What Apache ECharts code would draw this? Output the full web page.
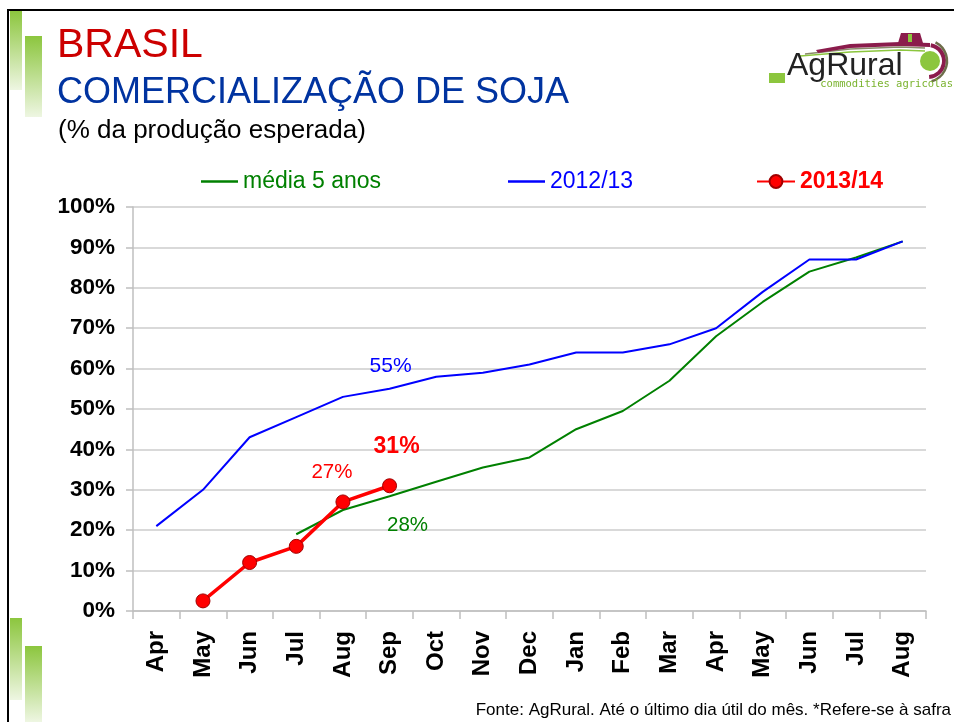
<!DOCTYPE html>
<html>
<head>
<meta charset="utf-8">
<title>Comercialização de soja</title>
<script src="https://cdn.jsdelivr.net/npm/echarts/dist/echarts.min.js"></script>
<style>
    body { margin: 0; background: #fff; }
    #chart { width: 954px; height: 722px; }
</style>
</head>
<body>
<div id="chart"></div>
<script>
// meses da safra (abr -> ago do ano seguinte)
var months = ['Apr', 'May', 'Jun', 'Jul', 'Aug', 'Sep', 'Oct', 'Nov', 'Dec', 'Jan', 'Feb', 'Mar', 'Apr', 'May', 'Jun', 'Jul', 'Aug'];
// % da produção esperada
var media5anos = ['-', '-', '-', 19, 25, 28.4, 32, 35.5, 38, 45, 49.5, 57, 68, 76.5, 84, 87.5, 91.5];
var safra1213 = [21, 30, 43, 48, 53, 55, 58, 59, 61, 64, 64, 66, 70, 79, 87, 87, 91.5];
var safra1314 = ['-', 2.5, 12, 16, 27, 31];
var yTicks = [0, 10, 20, 30, 40, 50, 60, 70, 80, 90, 100];

var FONT = 'Liberation Sans, Arial, sans-serif';

function pct(p) {
    return Math.round(p.value) + '%';
}

function verde(x, y, w, h) {
    return {
        type: 'rect', shape: { x: x, y: y, width: w, height: h },
        style: { fill: new echarts.graphic.LinearGradient(0, 0, 0, 1, [{ offset: 0, color: '#8cc63e' }, { offset: 1, color: '#eef6e2' }]) }
    };
}

var myChart = echarts.init(document.getElementById('chart'));

var option = {
    animation: false,
    backgroundColor: '#fff',
    textStyle: { fontFamily: FONT },
    grid: { left: 133, right: 28, top: 207, bottom: 111 },
    legend: [
        {
            data: ['média 5 anos'], left: 201, top: 170, padding: 0, selectedMode: false,
            icon: 'rect', itemWidth: 37, itemHeight: 2.5, itemGap: 6,
            textStyle: { color: '#008000', fontSize: 23, fontFamily: FONT }
        },
        {
            data: ['2012/13'], left: 508, top: 170, padding: 0, selectedMode: false,
            icon: 'rect', itemWidth: 37, itemHeight: 2.5,
            textStyle: { color: '#0000ff', fontSize: 23, fontFamily: FONT }
        },
        {
            data: ['2013/14'], left: 756, top: 170, padding: 0, selectedMode: false,
            itemWidth: 38, itemHeight: 16,
            textStyle: { color: '#ff0000', fontSize: 23, fontWeight: 'bold', fontFamily: FONT }
        }
    ],
    xAxis: {
        type: 'category',
        boundaryGap: true,
        data: months,
        axisLine: { lineStyle: { color: '#bfbfbf', width: 1.5 } },
        axisTick: { show: true, length: 8, lineStyle: { color: '#bfbfbf', width: 1.5 } },
        axisLabel: {
            rotate: 90, margin: 20, interval: 0,
            color: '#000', fontSize: 24, fontWeight: 'bold', fontFamily: FONT
        }
    },
    yAxis: {
        type: 'value',
        min: yTicks[0], max: yTicks[yTicks.length - 1], interval: 10,
        axisLine: { show: true, lineStyle: { color: '#bfbfbf', width: 1.5 } },
        axisTick: { show: true, length: 7, lineStyle: { color: '#bfbfbf', width: 1.5 } },
        splitLine: { lineStyle: { color: '#d9d9d9', width: 2 } },
        axisLabel: {
            formatter: '{value}%', margin: 18,
            color: '#000', fontSize: 22.5, fontWeight: 'bold', fontFamily: FONT
        }
    },
    series: [
        {
            name: 'média 5 anos',
            type: 'line',
            data: media5anos,
            symbol: 'none',
            lineStyle: { color: '#008000', width: 2 },
            itemStyle: { color: '#008000' },
            markPoint: {
                symbol: 'circle', symbolSize: 0,
                data: [{ coord: [5, media5anos[5]], value: media5anos[5] }],
                label: {
                    show: true, position: 'inside', offset: [18, 29],
                    formatter: pct, color: '#008000', fontSize: 20.5, fontFamily: FONT
                }
            }
        },
        {
            name: '2012/13',
            type: 'line',
            data: safra1213,
            symbol: 'none',
            lineStyle: { color: '#0000ff', width: 2 },
            itemStyle: { color: '#0000ff' },
            markPoint: {
                symbol: 'circle', symbolSize: 0,
                data: [{ coord: [5, safra1213[5]], value: safra1213[5] }],
                label: {
                    show: true, position: 'inside', offset: [1, -23],
                    formatter: pct, color: '#0000ff', fontSize: 21, fontFamily: FONT
                }
            }
        },
        {
            name: '2013/14',
            type: 'line',
            data: safra1314,
            symbol: 'circle',
            symbolSize: 14,
            lineStyle: { color: '#ff0000', width: 3.5 },
            itemStyle: { color: '#ff0000', borderColor: '#a00000', borderWidth: 1 },
            markPoint: {
                symbol: 'circle', symbolSize: 0,
                data: [
                    {
                        coord: [4, safra1314[4]], value: safra1314[4],
                        label: { offset: [-11, -30], fontSize: 20.5 }
                    },
                    {
                        coord: [5, safra1314[5]], value: safra1314[5],
                        label: { offset: [7, -39], fontSize: 23, fontWeight: 'bold' }
                    }
                ],
                label: {
                    show: true, position: 'inside',
                    formatter: pct, color: '#ff0000', fontFamily: FONT
                }
            }
        }
    ],
    graphic: [
        // moldura do slide
        { type: 'rect', shape: { x: 7, y: 9, width: 950, height: 2 }, style: { fill: '#000' } },
        { type: 'rect', shape: { x: 7, y: 9, width: 2, height: 720 }, style: { fill: '#000' } },
        // barras verdes decorativas
        verde(10, 11, 12, 79),
        verde(25, 36, 17, 81),
        verde(10, 618, 12, 82),
        verde(25, 646, 17, 76),
        // títulos
        { type: 'text', style: { text: 'BRASIL', x: 57, y: 46, verticalAlign: 'middle', font: '41px ' + FONT, fill: '#cc0000' } },
        { type: 'text', style: { text: 'COMERCIALIZAÇÃO DE SOJA', x: 57, y: 93, verticalAlign: 'middle', font: '36px ' + FONT, fill: '#0033a0' } },
        { type: 'text', style: { text: '(% da produção esperada)', x: 58, y: 131, verticalAlign: 'middle', font: '26px ' + FONT, fill: '#000' } },
        // rodapé
        { type: 'text', style: { text: 'Fonte: AgRural. Até o último dia útil do mês. *Refere-se à safra', x: 951, y: 710, align: 'right', verticalAlign: 'middle', font: '17px ' + FONT, fill: '#000' } },
        // logo AgRural
        { type: 'polyline', shape: { points: [[800, 56], [850, 52], [900, 50], [925, 51]] }, style: { stroke: '#8cc63e', lineWidth: 1.5, fill: null } },
        { type: 'polyline', shape: { points: [[805, 54], [850, 49], [900, 47], [925, 48]] }, style: { stroke: '#8a8a6a', lineWidth: 1.5, fill: null } },
        { type: 'polygon', shape: { points: [[816, 50], [850, 44], [900, 42], [930, 43], [930, 47], [900, 46], [850, 48], [818, 53]] }, style: { fill: '#8b1c4c' } },
        { type: 'polygon', shape: { points: [[898, 43], [901, 33], [920, 33], [923, 43]] }, style: { fill: '#8b1c4c' } },
        { type: 'rect', shape: { x: 908, y: 34, width: 4, height: 8 }, style: { fill: '#8cc63e' } },
        { type: 'circle', shape: { cx: 930, cy: 61, r: 10 }, style: { fill: '#8cc63e' } },
        { type: 'arc', shape: { cx: 928, cy: 61, r: 16, startAngle: -1.4, endAngle: 1.5 }, style: { stroke: '#8b1c4c', lineWidth: 4, fill: null } },
        { type: 'arc', shape: { cx: 926, cy: 61, r: 21, startAngle: -1.1, endAngle: 1.3 }, style: { stroke: '#6d6d4a', lineWidth: 2.5, fill: null } },
        { type: 'rect', shape: { x: 769, y: 73, width: 16, height: 10 }, style: { fill: '#8cc63e' } },
        { type: 'text', style: { text: 'AgRural', x: 787, y: 66, verticalAlign: 'middle', font: '32px ' + FONT, fill: '#222' } },
        { type: 'text', style: { text: 'commodities agricolas', x: 953, y: 84, align: 'right', verticalAlign: 'middle', font: '10.5px DejaVu Sans Mono, monospace', fill: '#7ab32e' } }
    ]
};

myChart.setOption(option);
</script>
</body>
</html>
